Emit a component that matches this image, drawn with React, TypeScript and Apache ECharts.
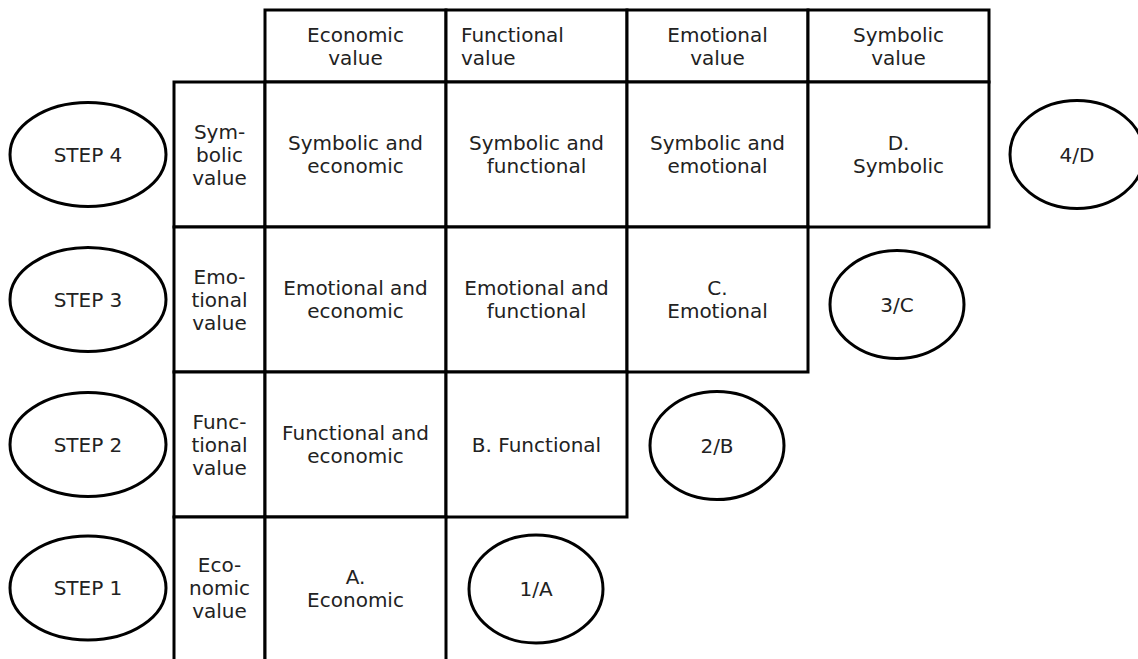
import React, { useEffect, useRef } from "react";
import * as echarts from "echarts";

const columnHeaders = ["Economic\nvalue", "Functional\nvalue", "Emotional\nvalue", "Symbolic\nvalue"];
const columnHeaderAlign = ["center", "left", "center", "center"];
const rowHeaders = ["Sym-\nbolic\nvalue", "Emo-\ntional\nvalue", "Func-\ntional\nvalue", "Eco-\nnomic\nvalue"];
const cellLabels = [
  ["Symbolic and\neconomic", "Symbolic and\nfunctional", "Symbolic and\nemotional", "D.\nSymbolic"],
  ["Emotional and\neconomic", "Emotional and\nfunctional", "C.\nEmotional"],
  ["Functional and\neconomic", "B. Functional"],
  ["A.\nEconomic"],
];
const stepLabels = ["STEP 4", "STEP 3", "STEP 2", "STEP 1"];
const markerLabels = ["4/D", "3/C", "2/B", "1/A"];

// layout
const COL_X = [265, 446, 627, 808, 989];
const ROWHDR_X = 174;
const HEADER_Y = [10, 82];
const ROW_Y = [82, 227, 372, 517, 680];
const ROW_CENTER = [154.5, 299.5, 444.5, 588];
const MARKER_DY = [0, 5, 1, 1];
const MARKER_DX = [88, 89, 90, 90];
const FONT = "'DejaVu Sans', Verdana, sans-serif";
const TEXT_COLOR = "#222";
const FS = 20;
const LH = 23;
const LW = 3;

function txt(x: number, y: number, text: string, align = "center") {
  return {
    type: "text",
    x,
    y,
    z: 10,
    style: {
      text,
      x: 0,
      y: 0,
      fill: TEXT_COLOR,
      font: `${FS}px ${FONT}`,
      fontSize: FS,
      fontFamily: FONT,
      lineHeight: LH,
      align,
      verticalAlign: "middle",
    },
  };
}

function rect(x: number, y: number, w: number, h: number) {
  return {
    type: "rect",
    z: 5,
    shape: { x, y, width: w, height: h },
    style: { fill: "#fff", stroke: "#000", lineWidth: LW },
  };
}

function ellipse(cx: number, cy: number, rx: number, ry: number) {
  return {
    type: "ellipse",
    z: 5,
    shape: { cx, cy, rx, ry },
    style: { fill: "#fff", stroke: "#000", lineWidth: LW },
  };
}

export default function App() {
  const ref = useRef<HTMLDivElement>(null);
  useEffect(() => {
    if (!ref.current) return;
    const chart = echarts.init(ref.current, undefined, { renderer: "svg" });
    const elements: any[] = [];

    // header cells
    columnHeaders.forEach((h, i) => {
      const x0 = COL_X[i];
      const x1 = COL_X[i + 1];
      elements.push(rect(x0, HEADER_Y[0], x1 - x0, HEADER_Y[1] - HEADER_Y[0]));
      const cy = (HEADER_Y[0] + HEADER_Y[1]) / 2;
      if (columnHeaderAlign[i] === "left") {
        elements.push(txt(x0 + 15, cy, h, "left"));
      } else {
        elements.push(txt((x0 + x1) / 2, cy, h, "center"));
      }
    });

    // rows
    rowHeaders.forEach((rh, r) => {
      const y0 = ROW_Y[r];
      const y1 = ROW_Y[r + 1];
      const cy = ROW_CENTER[r];
      elements.push(rect(ROWHDR_X, y0, COL_X[0] - ROWHDR_X, y1 - y0));
      elements.push(txt((ROWHDR_X + COL_X[0]) / 2, cy, rh));
      cellLabels[r].forEach((label, c) => {
        const x0 = COL_X[c];
        const x1 = COL_X[c + 1];
        elements.push(rect(x0, y0, x1 - x0, y1 - y0));
        elements.push(txt((x0 + x1) / 2, cy, label));
      });
      // step ellipse
      elements.push(ellipse(88, cy, 78, 52));
      elements.push(txt(88, cy, stepLabels[r]));
      // marker ellipse in next column
      const n = cellLabels[r].length;
      const mx = COL_X[n] + MARKER_DX[r];
      const my = cy + MARKER_DY[r];
      elements.push(ellipse(mx, my, 67, 54));
      elements.push(txt(mx, my, markerLabels[r]));
    });

    chart.setOption({
      animation: false,
      backgroundColor: "#fff",
      graphic: { elements },
    });
    return () => chart.dispose();
  }, []);
  return (
    <div
      ref={ref}
      style={{ position: "fixed", left: 0, top: 0, width: 1138, height: 659 }}
    />
  );
}
